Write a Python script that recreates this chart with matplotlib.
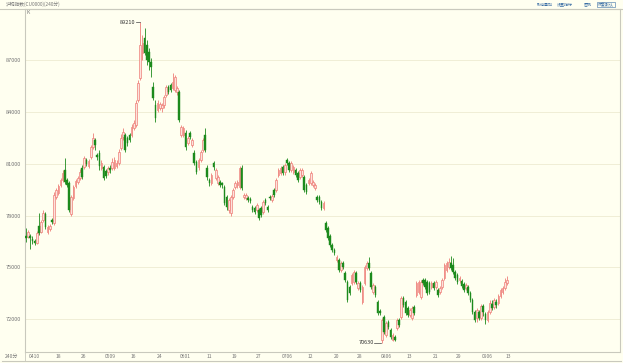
import matplotlib
matplotlib.use("Agg")
import matplotlib.pyplot as plt
import matplotlib.transforms as mtransforms
from matplotlib.lines import Line2D
import numpy as np

plt.rcParams["font.family"] = ["Noto Sans CJK SC", "DejaVu Sans"]

# 240-minute bars
opens = [
    76810, 76750, 76810, 76640, 76520, 76410, 77390, 77040, 77740, 78090,
    77040, 77220, 77740, 77570, 79070, 79310, 79770, 80060, 80640, 80060,
    79890, 78090, 79020, 79710, 79940, 80180, 80760, 80810, 81220, 80870,
    81390, 81970, 82380, 81510, 81630, 80760, 80810, 80580, 80520, 80760,
    80760, 80760, 80870, 81050, 81920, 82550, 82670, 82500, 82670, 82670,
    83080, 83250, 84700, 85980, 87430, 88300, 87890, 87480, 86900, 85450,
    84410, 84120, 84240, 84240, 84410, 84990, 85450, 85570, 85400, 85280,
    85160, 85160, 82670, 82670, 82790, 82210, 82790, 82090, 81630, 81100,
    80810, 81220, 81800, 82670, 80760, 80060, 79890, 81050, 80180, 79890,
    79940, 79890, 79650, 79070, 78320, 78150, 79070, 79650, 79770, 79650,
    80760, 79070, 79020, 79020, 78960, 78490, 78440, 78320, 78320, 78440,
    78200, 78900, 78490, 79070, 78900, 79480, 79480, 80350, 80470, 80810,
    80520, 81220, 81050, 80640, 80520, 80640, 80470, 80230, 80350, 80230,
    79770, 79890, 79890, 79770, 79600, 79070, 79070, 78780, 78440, 77570,
    77280, 76810, 76290, 76000, 75420, 75420, 74840, 75250, 74670, 74140,
    73850, 74090, 74140, 74670, 73800, 74090, 72980, 74090, 74960, 75250,
    74670, 73560, 73850, 72980, 72460, 70780, 72110, 71070, 71820, 71360,
    70780, 70950, 71480, 71940, 72110, 73220, 72980, 72640, 72230, 72060,
    72690, 73390, 73560, 73270, 74260, 74260, 74140, 74090, 73850, 74090,
    73850, 73680, 73560, 73850, 74380, 74840, 75010, 75250, 75130, 74720,
    74550, 74260, 74200, 74030, 73800, 73850, 73510, 73100, 72400, 72060,
    72400, 72060, 72750, 72290, 71940, 72400, 72870, 72690, 72980, 72930,
    73330, 73560, 73800, 74090,
]
closes = [
    76700, 77040, 76700, 76520, 76410, 76990, 76990, 77620, 78150, 77330,
    77330, 77390, 77620, 79190, 79480, 79710, 80060, 80470, 79940, 79770,
    78320, 79070, 79650, 80000, 80180, 80520, 80230, 81340, 80990, 81160,
    81970, 82500, 82090, 81390, 80870, 81050, 80180, 80290, 80760, 80640,
    81100, 81220, 81050, 81680, 82500, 82840, 81800, 82210, 82380, 83130,
    83370, 84530, 85690, 87890, 88010, 87430, 87020, 86900, 86610, 84820,
    83660, 84530, 84470, 84410, 84870, 85450, 85160, 85280, 85740, 86030,
    85400, 83540, 83130, 83080, 81970, 82500, 82550, 82380, 81050, 80520,
    81220, 81680, 82380, 81800, 80230, 79890, 80350, 80810, 80640, 80230,
    79770, 79770, 78730, 78490, 78900, 79070, 79480, 79890, 79940, 80760,
    79600, 79190, 79190, 78900, 78840, 78320, 78200, 78610, 77860, 78030,
    78780, 78730, 78320, 79020, 79130, 79190, 80060, 80640, 80760, 80470,
    80930, 81050, 80640, 81050, 80810, 80350, 80060, 80640, 80640, 79480,
    79360, 80060, 80470, 79940, 79770, 78900, 78780, 78440, 78730, 77160,
    76700, 76290, 76000, 75830, 75590, 74840, 75250, 75010, 74260, 73100,
    73510, 74550, 74720, 74140, 74090, 73680, 73850, 75010, 75250, 74960,
    73850, 73970, 73390, 72350, 72350, 71940, 71240, 71770, 71530, 70950,
    71070, 70780, 71940, 71650, 73220, 72810, 72350, 72230, 72520, 72640,
    72350, 74090, 74140, 74140, 74090, 73850, 73510, 73560, 74090, 73800,
    74140, 73390, 73800, 74260, 75130, 75250, 75300, 74960, 74720, 74380,
    74140, 74380, 73910, 73680, 73970, 73510, 73100, 72400, 71940, 72520,
    72060, 72750, 72400, 71940, 72400, 72930, 72640, 73100, 72810, 73330,
    73680, 73800, 74140, 74260,
]
highs = [
    77280, 77160, 76930, 76810, 76640, 77100, 78150, 77740, 78320, 78200,
    77450, 77510, 77860, 79360, 79600, 79830, 80180, 80640, 81340, 80180,
    80000, 79190, 79770, 80120, 80290, 80700, 80930, 81450, 81340, 81280,
    82090, 82790, 82500, 81630, 81800, 81220, 80930, 80700, 80870, 80930,
    81340, 81390, 81220, 81860, 82730, 83080, 82790, 82610, 82790, 83310,
    83540, 84700, 85860, 89210, 88470, 88880, 88180, 87720, 87140, 85740,
    84700, 84700, 84580, 84530, 84990, 85570, 85570, 85690, 86270, 86150,
    85510, 85280, 83250, 83190, 82960, 82610, 82900, 82500, 81800, 81220,
    81340, 81800, 82500, 83080, 80930, 80180, 80470, 81160, 80760, 80350,
    80060, 79940, 79770, 79190, 79020, 79190, 79600, 80000, 80060, 80870,
    80930, 79310, 79310, 79130, 79070, 78610, 78550, 78730, 78440, 78550,
    78900, 79020, 78610, 79190, 79250, 79600, 80180, 80760, 80870, 80930,
    81050, 81340, 81160, 81160, 80930, 80760, 80580, 80760, 80760, 80350,
    79890, 80180, 80580, 80060, 79890, 79190, 79190, 78900, 78840, 77680,
    77390, 76930, 76410, 76120, 75710, 75540, 75360, 75360, 74780, 74260,
    73970, 74670, 74840, 74780, 74200, 74200, 73970, 75130, 75360, 75590,
    74780, 74090, 73970, 73100, 72580, 72060, 72230, 71880, 71940, 71480,
    71190, 71070, 72060, 72060, 73330, 73330, 73100, 72750, 72640, 72750,
    72810, 74200, 74260, 74260, 74380, 74380, 74260, 74200, 74200, 74200,
    74260, 73800, 73910, 74380, 75250, 75360, 75540, 75650, 75540, 74840,
    74670, 74490, 74320, 74140, 74090, 73970, 73620, 73220, 72520, 72640,
    72520, 72870, 72870, 72400, 72520, 73100, 73100, 73220, 73160, 73450,
    73800, 73910, 74380, 74490,
]
lows = [
    76460, 76700, 76060, 76350, 76290, 76350, 76870, 76990, 77620, 77220,
    76930, 77100, 77510, 77450, 78960, 79190, 79650, 79940, 79830, 79650,
    78200, 77970, 78900, 79600, 79830, 80060, 80120, 80700, 80870, 80760,
    81280, 81860, 81800, 81220, 80640, 80640, 80060, 80180, 80350, 80470,
    80640, 80640, 80760, 80930, 81800, 82380, 81680, 82030, 82260, 82550,
    82960, 83130, 84580, 85860, 87020, 87310, 86730, 86440, 86030, 84700,
    83420, 84000, 84120, 84000, 84240, 84870, 85050, 85160, 85280, 85160,
    84990, 83420, 82550, 82550, 81800, 82090, 82440, 81970, 80930, 80410,
    80640, 81100, 81680, 81680, 80060, 79710, 79770, 80640, 80060, 79770,
    79650, 79600, 78610, 78320, 78150, 77970, 78960, 79540, 79600, 79540,
    79480, 78960, 78900, 78780, 78730, 78200, 78090, 78200, 77740, 77910,
    78090, 78610, 78200, 78900, 78780, 79070, 79360, 80230, 80350, 80350,
    80350, 80930, 80520, 80520, 80410, 80230, 79940, 80120, 80230, 79360,
    79250, 79770, 79770, 79650, 79480, 78780, 78670, 78320, 78320, 77040,
    76580, 76170, 75880, 75710, 75300, 74720, 74720, 74900, 74140, 72980,
    73390, 73970, 74030, 74030, 73680, 73560, 72870, 73970, 74840, 74840,
    73740, 73450, 73270, 72230, 72230, 70630, 71130, 70950, 71420, 70840,
    70720, 70720, 71360, 71530, 72000, 72690, 72230, 72110, 72110, 71940,
    72230, 73270, 73450, 73160, 73970, 73740, 73390, 73450, 73740, 73680,
    73740, 73270, 73450, 73740, 74260, 74720, 74900, 74840, 74610, 74260,
    74030, 74090, 73800, 73560, 73680, 73390, 72980, 72290, 71820, 71820,
    71940, 71940, 72170, 71710, 71820, 72290, 72520, 72580, 72640, 72810,
    73220, 73450, 73680, 73970,
]

tick_pos = [0, 12, 24, 35, 47, 59, 70, 82, 94, 105, 117, 129, 141, 152, 163, 175, 187, 198, 210, 221]
tick_labels = ["0410", "18", "26", "0509", "16", "24", "0601", "11", "19", "27",
               "0706", "12", "20", "28", "0806", "13", "21", "29", "0906", "13"]
price_ticks = [72000, 75000, 78000, 81000, 84000, 87000]
header_buttons = ["取消叠加", "设置指标", "图例"]
header_button_x = [545, 565, 588]

BG = "#fffff0"
UP = "#ee7f78"
UP_FILL = "#fde2dc"
DOWN = "#1c8a1c"
FRAME = "#c9c9bd"
TXT = "#777777"
LINK = "#3a6ea5"

fig = plt.figure(figsize=(6.23, 3.63), dpi=100, facecolor=BG)
ax = fig.add_axes([25 / 623, 11 / 363, 595 / 623, 343 / 363])
ax.set_facecolor(BG)

o = np.array(opens)
c = np.array(closes)
h = np.array(highs)
lo = np.array(lows)
x = np.arange(len(c))
up = c >= o

ax.vlines(x[up], lo[up], h[up], color=UP, lw=0.6, zorder=2)
ax.vlines(x[~up], lo[~up], h[~up], color=DOWN, lw=0.6, zorder=2)
body_bottom = np.minimum(o, c)
body_h = np.maximum(np.abs(c - o), 35)
ax.bar(x[up], body_h[up], bottom=body_bottom[up], width=0.75,
       facecolor=UP_FILL, edgecolor=UP, lw=0.5, zorder=3)
ax.bar(x[~up], body_h[~up], bottom=body_bottom[~up], width=0.75,
       facecolor=DOWN, edgecolor=DOWN, lw=0.3, zorder=3)

ax.set_xlim(-0.46, 275.4)
ax.set_ylim(70084, 89978)

ax.set_yticks(price_ticks)
ax.set_yticklabels([str(v) for v in price_ticks], fontsize=4, color=TXT)
ax.tick_params(axis="y", length=0, pad=3)
ax.set_xticks([])
ax.yaxis.grid(True, color="#eeebd2", lw=0.6, zorder=0)
for s in ax.spines.values():
    s.set_color(FRAME)
    s.set_linewidth(0.8)

# high / low markers
imax = int(np.argmax(h))
imin = int(np.argmin(lo))
ax.plot([imax - 2.0, imax], [h[imax], h[imax]], color="#444444", lw=0.5, zorder=4)
ax.text(imax - 2.2, h[imax], f"{h[imax]}", ha="right", va="center", fontsize=4, color="#333333")
ax.plot([imin - 3.6, imin - 0.4], [lo[imin], lo[imin]], color="#444444", lw=0.5, zorder=4)
ax.text(imin - 3.8, lo[imin], f"{lo[imin]}", ha="right", va="center", fontsize=4, color="#333333")

# date labels under the axis
trans = mtransforms.blended_transform_factory(ax.transData, ax.transAxes)
for p, lab in zip(tick_pos, tick_labels):
    ax.text(p + 1.5, -0.012, lab, transform=trans, ha="left", va="center",
            fontsize=3.6, color=TXT, clip_on=False)
fig.text(12 / 623, 1 - 356 / 363, "240分", ha="center", va="center", fontsize=3.6, color=TXT)
fig.add_artist(Line2D([0.003, 0.997], [2 / 363, 2 / 363], color=FRAME, lw=0.8))
fig.add_artist(Line2D([25 / 623, 25 / 623], [2 / 363, 11 / 363], color=FRAME, lw=0.6))

# header
fig.add_artist(Line2D([0.0, 1.0], [1 - 9 / 363, 1 - 9 / 363], color=FRAME, lw=0.8))
fig.text(6 / 623, 1 - 4.5 / 363, "沪铜指数(CU0000)(240分)", ha="left", va="center",
         fontsize=3.4, color=TXT)
fig.text(27 / 623, 1 - 13 / 363, "K", fontsize=3.6, color=TXT, ha="left", va="center")
for xp, lab in zip(header_button_x, header_buttons):
    fig.text(xp / 623, 1 - 4.5 / 363, lab, ha="center", va="center", fontsize=2.9, color=LINK)
fig.text(606 / 623, 1 - 4.5 / 363, "恢复默认", ha="center", va="center", fontsize=2.9,
         color=LINK, bbox=dict(boxstyle="square,pad=0.15", fc=BG, ec=LINK, lw=0.4))

fig.savefig("out.png", dpi=100, facecolor=BG)
